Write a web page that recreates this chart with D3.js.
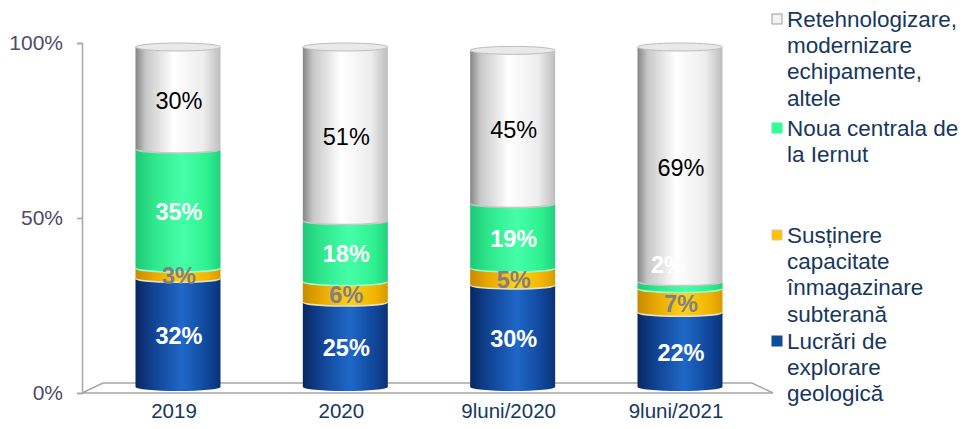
<!DOCTYPE html>
<html>
<head>
<meta charset="utf-8">
<script src="https://cdn.jsdelivr.net/npm/d3@7/dist/d3.min.js"></script>
<style>
  body { margin: 0; background: #fff; }
  text { font-family: "Liberation Sans", Arial, sans-serif; }
</style>
</head>
<body>
<div id="chart"></div>
<script>
// data
var categories = ["2019", "2020", "9luni/2020", "9luni/2021"];
var explorare   = [32, 25, 30, 22];   // Lucrări de explorare geologică
var sustinere   = [3, 6, 5, 7];       // Susținere capacitate înmagazinare subterană
var iernut      = [35, 18, 19, 2];    // Noua centrala de la Iernut
var retehno     = [30, 51, 45, 69];   // Retehnologizare, modernizare echipamente, altele
var yTicks = [0, 50, 100];

var seriesNames = [
    ["Retehnologizare,", "modernizare", "echipamente,", "altele"],
    ["Noua centrala de", "la Iernut"],
    ["Susținere", "capacitate", "înmagazinare", "subterană"],
    ["Lucrări de", "explorare", "geologică"]
];

var width = 963, height = 429;

var svg = d3.select('#chart')
    .append('svg')
        .attr('width', width)
        .attr('height', height);

var defs = svg.append('defs');

// horizontal gradients to fake the cylinders
function gradient(id, stops) {
    var g = defs.append('linearGradient')
        .attr('id', id)
        .attr('x1', '0%').attr('x2', '100%')
        .attr('y1', '0%').attr('y2', '0%');
    stops.forEach(function (s) {
        g.append('stop').attr('offset', s[0]).attr('stop-color', s[1]);
    });
}
gradient('gBlue',   [['0%', '#0a2660'], ['18%', '#0f3f8c'], ['55%', '#1f68c8'], ['85%', '#0f469a'], ['100%', '#0b3276']]);
gradient('gYellow', [['0%', '#c88a00'], ['20%', '#e6a600'], ['55%', '#ffd21a'], ['85%', '#f0b400'], ['100%', '#d89a00']]);
gradient('gGreen',  [['0%', '#1fc878'], ['20%', '#2ee58a'], ['55%', '#45ffa8'], ['85%', '#2ef090'], ['100%', '#22d07e']]);
gradient('gGrey',   [['0%', '#858585'], ['12%', '#c8c8c8'], ['45%', '#ffffff'], ['80%', '#ededed'], ['100%', '#bdbdbd']]);

var series = [
    { values: explorare, fill: 'url(#gBlue)',   edge: '#9fb4d6', label: '#ffffff', bold: true,  legend: '#0f4c9c', legendStroke: '#0f4c9c' },
    { values: sustinere, fill: 'url(#gYellow)', edge: '#e8e0c0', label: '#808080', bold: true,  legend: '#ffc000', legendStroke: '#d9c9a0' },
    { values: iernut,    fill: 'url(#gGreen)',  edge: '#9effc8', label: '#ffffff', bold: true,  legend: '#33ff99', legendStroke: '#33ff99' },
    { values: retehno,   fill: 'url(#gGrey)',   edge: '#c8c8c8', label: '#000000', bold: false, legend: '#f2f2f2', legendStroke: '#9a9a9a' }
];

// scales
var xScale = d3.scalePoint()
    .domain(categories)
    .range([178, 680]);

var barWidth = 85;
var rx = barWidth / 2, ry = 4;

var yScale = d3.scaleLinear()      // back plane, where the cylinders stand
    .domain([0, 100])
    .range([387, 47]);

var yAxisScale = d3.scaleLinear()  // front plane, the axis
    .domain([0, 100])
    .range([393, 43]);

// floor
svg.append('path')
    .attr('d', 'M82,393 L103,383 L752,383 L773,393 Z')
    .attr('fill', '#ffffff')
    .attr('stroke', '#a6a6a6')
    .attr('stroke-width', 1.5);

// y axis
var yAxis = d3.axisLeft(yAxisScale)
    .tickValues(yTicks)
    .tickSize(5)
    .tickFormat(function (d) { return d + '%'; });

var yg = svg.append('g')
    .attr('class', 'y axis')
    .attr('transform', 'translate(82,0)')
    .call(yAxis);
yg.select('.domain').attr('stroke', '#a6a6a6').attr('stroke-width', 1.5);
yg.selectAll('.tick line').attr('stroke', '#a6a6a6').attr('stroke-width', 1.5);
yg.selectAll('.tick text')
    .attr('x', -19)
    .attr('fill', '#4f4a6a')
    .style('font-size', '21px')
    .style('font-family', '"Liberation Sans", Arial, sans-serif');

// category labels
svg.selectAll('.cat')
    .data(categories)
    .enter()
    .append('text')
        .attr('class', 'cat')
        .attr('x', function (d) { return xScale(d) - 4; })
        .attr('y', 418)
        .attr('text-anchor', 'middle')
        .attr('fill', '#17375e')
        .style('font-size', '20.5px')
        .text(function (d) { return d; });

// cylinders
function band(cx, y0, y1) {
    var l = cx - rx, r = cx + rx;
    return 'M' + l + ',' + y0 +
        ' A' + rx + ',' + ry + ' 0 0 0 ' + r + ',' + y0 +
        ' L' + r + ',' + y1 +
        ' A' + rx + ',' + ry + ' 0 0 1 ' + l + ',' + y1 + ' Z';
}

categories.forEach(function (cat, i) {
    var cx = xScale(cat);
    var base = 0;
    var g = svg.append('g').attr('class', 'bar');
    series.forEach(function (s) {
        var v = s.values[i];
        var top = base + v;
        g.append('path')
            .attr('d', band(cx, yScale(top), yScale(base)))
            .attr('fill', s.fill);
        base = top;
    });
    // top cap
    g.append('ellipse')
        .attr('cx', cx).attr('cy', yScale(base))
        .attr('rx', rx).attr('ry', ry)
        .attr('fill', '#e9e9e9')
        .attr('stroke', '#bdbdbd')
        .attr('stroke-width', 1);
    // boundary highlights
    var acc = 0;
    series.forEach(function (s, k) {
        acc += s.values[i];
        if (k === series.length - 1) return;
        var yb = yScale(acc);
        g.append('path')
            .attr('d', 'M' + (cx - rx) + ',' + yb + ' A' + rx + ',' + ry + ' 0 0 0 ' + (cx + rx) + ',' + yb)
            .attr('fill', 'none')
            .attr('stroke', series[k + 1].edge)
            .attr('stroke-width', 1.5);
    });
    // labels
    acc = 0;
    series.forEach(function (s) {
        var v = s.values[i];
        var mid = yScale(acc + v / 2) + 3;
        var lx = cx + 1;
        // a very thin slice gets its label above it
        if (v < 3) { mid = yScale(acc + v) - 17; lx = cx - 12; }
        acc += v;
        g.append('text')
            .attr('x', lx)
            .attr('y', mid)
            .attr('dy', '0.35em')
            .attr('text-anchor', 'middle')
            .attr('fill', v < 3 ? '#ffffff' : s.label)
            .style('font-size', '23.5px')
            .style('font-weight', s.bold ? 'bold' : 'normal')
            .text(v + '%');
    });
});

// legend (top to bottom: grey, green, yellow, blue)
var legendTop = [19, 128, 235, 341];
var lineH = 26.3;
var legendOrder = [3, 2, 1, 0];

legendOrder.forEach(function (si, j) {
    var s = series[si];
    var y0 = legendTop[j];
    svg.append('rect')
        .attr('x', 772).attr('y', y0 - 5)
        .attr('width', 10).attr('height', 10)
        .attr('fill', s.legend)
        .attr('stroke', s.legendStroke)
        .attr('stroke-width', 1);
    var t = svg.append('text')
        .attr('x', 787)
        .attr('y', y0)
        .attr('fill', '#17375e')
        .style('font-size', '22.5px');
    seriesNames[j].forEach(function (line, n) {
        t.append('tspan')
            .attr('x', 787)
            .attr('y', y0 + n * lineH)
            .attr('dy', '0.35em')
            .text(line);
    });
});
</script>
</body>
</html>
